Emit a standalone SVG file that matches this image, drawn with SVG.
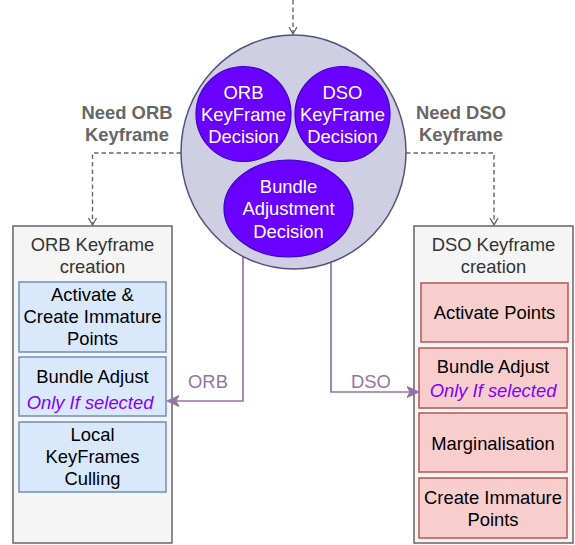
<svg xmlns="http://www.w3.org/2000/svg" width="575" height="545" viewBox="0 0 575 545">
<style>
text{font-family:"Liberation Sans",Arial,sans-serif;font-size:18.4px;text-anchor:middle}
.w{fill:#ffffff}
.k{fill:#000000}
.t{fill:#333333}
.g{fill:#666666;font-weight:bold}
.p{fill:#9673a6}
.it{fill:#7f00ff;font-style:italic}
.outer{fill:#f5f5f5;stroke:#666666;stroke-width:1.5}
.blue{fill:#dae8fc;stroke:#6c8ebf;stroke-width:1.5}
.red{fill:#f8cecc;stroke:#b85450;stroke-width:1.5}
.inner{fill:#6a00ff;stroke:#3700cc;stroke-width:1.2}
.dash{fill:none;stroke:#666666;stroke-width:1.4;stroke-dasharray:4.5 3}
.pl{fill:none;stroke:#9673a6;stroke-width:1.7}
</style>
<defs>
<marker id="open" viewBox="0 0 8 10" refX="7.5" refY="5" markerWidth="8" markerHeight="10" markerUnits="userSpaceOnUse" orient="auto">
<path d="M0.5,1 L7.5,5 L0.5,9" fill="none" stroke="#666666" stroke-width="1.3"/>
</marker>
<marker id="fill" viewBox="0 0 12 12" refX="11" refY="6" markerWidth="12" markerHeight="12" markerUnits="userSpaceOnUse" orient="auto">
<path d="M0,0.5 L12,6 L0,11.5 L3,6 Z" fill="#9673a6" stroke="#9673a6" stroke-width="1"/>
</marker>
</defs>
<g id="orb-box">
<rect class="outer" x="13" y="226" width="159" height="317"/>
<text class="t" x="92.5" y="251">ORB Keyframe</text>
<text class="t" x="92.5" y="273">creation</text>
</g>
<g id="orb-activate">
<rect class="blue" x="19" y="282" width="147" height="70"/>
<text class="k" x="92.5" y="301">Activate &amp;</text>
<text class="k" x="92.5" y="323">Create Immature</text>
<text class="k" x="92.5" y="345">Points</text>
</g>
<g id="orb-ba">
<rect class="blue" x="19" y="357" width="147" height="59"/>
<text class="k" x="92.5" y="383">Bundle Adjust</text>
<text class="it" x="90" y="409">Only If selected</text>
</g>
<g id="orb-culling">
<rect class="blue" x="19" y="422" width="147" height="70"/>
<text class="k" x="92.5" y="441">Local</text>
<text class="k" x="92.5" y="463">KeyFrames</text>
<text class="k" x="92.5" y="485">Culling</text>
</g>
<g id="dso-box">
<rect class="outer" x="414" y="226" width="159" height="317"/>
<text class="t" x="493.5" y="251">DSO Keyframe</text>
<text class="t" x="493.5" y="273">creation</text>
</g>
<g id="dso-activate">
<rect class="red" x="421" y="283" width="147" height="59"/>
<text class="k" x="494.5" y="319">Activate Points</text>
</g>
<g id="dso-ba">
<rect class="red" x="419" y="348" width="148" height="60"/>
<text class="k" x="493" y="373">Bundle Adjust</text>
<text class="it" x="493" y="397">Only If selected</text>
</g>
<g id="dso-marg">
<rect class="red" x="419" y="413" width="148" height="59"/>
<text class="k" x="493" y="450">Marginalisation</text>
</g>
<g id="dso-create">
<rect class="red" x="419" y="478" width="148" height="60"/>
<text class="k" x="493" y="504">Create Immature</text>
<text class="k" x="493" y="526">Points</text>
</g>
<g id="connectors">
<path class="dash" d="M293,0 L293,34" marker-end="url(#open)"/>
<path class="dash" d="M181,153 L92.5,153 L92.5,225" marker-end="url(#open)"/>
<path class="dash" d="M406,153 L494,153 L494,225" marker-end="url(#open)"/>
<path class="pl" d="M243,243 L243,401 L168,401" marker-end="url(#fill)"/>
<path class="pl" d="M331,245 L331,392 L418,392" marker-end="url(#fill)"/>
<text class="g" x="127" y="119">Need ORB</text>
<text class="g" x="127" y="141">Keyframe</text>
<text class="g" x="461" y="119">Need DSO</text>
<text class="g" x="461" y="141">Keyframe</text>
<text class="p" x="208" y="388">ORB</text>
<text class="p" x="371" y="388">DSO</text>
</g>
<g id="decision">
<ellipse cx="293.5" cy="152" rx="112.5" ry="117" fill="#d0cee2" stroke="#56517e" stroke-width="1.5"/>
</g>
<g id="orb-decision">
<circle class="inner" cx="243.5" cy="114" r="47.5"/>
<text class="w" x="243.5" y="99">ORB</text>
<text class="w" x="243.5" y="121">KeyFrame</text>
<text class="w" x="243.5" y="143">Decision</text>
</g>
<g id="dso-decision">
<circle class="inner" cx="342.5" cy="114" r="47.5"/>
<text class="w" x="342.5" y="99">DSO</text>
<text class="w" x="342.5" y="121">KeyFrame</text>
<text class="w" x="342.5" y="143">Decision</text>
</g>
<g id="ba-decision">
<ellipse class="inner" cx="288.5" cy="208.5" rx="64.5" ry="48.5"/>
<text class="w" x="288.5" y="193">Bundle</text>
<text class="w" x="288.5" y="215">Adjustment</text>
<text class="w" x="288.5" y="238">Decision</text>
</g>
</svg>
